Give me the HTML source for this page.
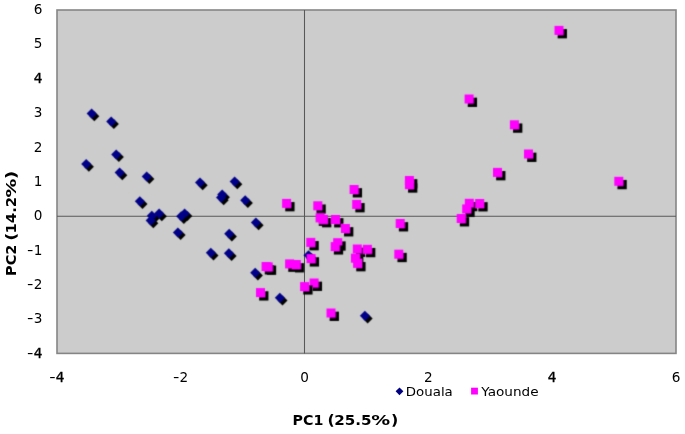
<!DOCTYPE html>
<html><head><meta charset="utf-8"><title>PCA scatter</title>
<style>
html,body{margin:0;padding:0;background:#fff;}
body{width:685px;height:434px;overflow:hidden;}
svg{display:block;}
text{font-family:"DejaVu Sans","Liberation Sans",sans-serif;fill:#000;}
.t{font-size:13.6px;}
.k{stroke:#000;stroke-width:0.35px;}
.l{font-size:12.8px;}
.b{font-size:inherit;font-weight:bold;}
svg{font-size:14px;}
</style></head><body>
<svg width="685" height="434" viewBox="0 0 685 434">
<rect x="0" y="0" width="685" height="434" fill="#ffffff"/>
<rect x="57.0" y="10.0" width="619.0" height="343.4" fill="#cccccc" stroke="#858585" stroke-width="1.6"/>
<line x1="57.0" y1="216.2" x2="676.0" y2="216.2" stroke="#585858" stroke-width="1.05"/>
<line x1="304.5" y1="10.0" x2="304.5" y2="353.4" stroke="#585858" stroke-width="1.05"/>
<text class="t" x="42.5" y="14.1" text-anchor="end">6</text>
<text class="t" x="42.5" y="48.4" text-anchor="end">5</text>
<text class="t k" x="42.5" y="82.8" text-anchor="end">4</text>
<text class="t" x="42.5" y="117.1" text-anchor="end">3</text>
<text class="t" x="42.5" y="151.5" text-anchor="end">2</text>
<text class="t" x="42.5" y="185.8" text-anchor="end">1</text>
<text class="t" x="42.5" y="220.1" text-anchor="end">0</text>
<text class="t" y="254.5"><tspan x="26.9" textLength="6.4" lengthAdjust="spacingAndGlyphs">-</tspan><tspan x="42.5" text-anchor="end">1</tspan></text>
<text class="t" y="288.8"><tspan x="26.9" textLength="6.4" lengthAdjust="spacingAndGlyphs">-</tspan><tspan x="42.5" text-anchor="end">2</tspan></text>
<text class="t" y="323.2"><tspan x="26.9" textLength="6.4" lengthAdjust="spacingAndGlyphs">-</tspan><tspan x="42.5" text-anchor="end">3</tspan></text>
<text class="t" y="357.5"><tspan x="26.9" textLength="6.4" lengthAdjust="spacingAndGlyphs">-</tspan><tspan x="42.5" text-anchor="end" class="k">4</tspan></text>
<text class="t" y="382"><tspan x="49.3" textLength="6.4" lengthAdjust="spacingAndGlyphs">-</tspan><tspan x="55.8" class="k">4</tspan></text>
<text class="t" y="382"><tspan x="173.1" textLength="6.4" lengthAdjust="spacingAndGlyphs">-</tspan><tspan x="179.6">2</tspan></text>
<text class="t" x="304.6" y="382" text-anchor="middle">0</text>
<text class="t" x="428.4" y="382" text-anchor="middle">2</text>
<text class="t k" x="552.2" y="382" text-anchor="middle">4</text>
<text class="t" x="676.0" y="382" text-anchor="middle">6</text>
<defs><filter id="bl" x="-5%" y="-5%" width="110%" height="110%"><feConvolveMatrix order="3" kernelMatrix="0.0484 0.2200 0.0484 0.2200 1.0000 0.2200 0.0484 0.2200 0.0484" divisor="2.0736" edgeMode="duplicate" preserveAlpha="false"/></filter></defs>
<g filter="url(#bl)">
<path d="M94.3 111.2L99.3 116.2L94.3 121.2L89.3 116.2Z" fill="#000"/><path d="M91.6 108.5L96.6 113.5L91.6 118.5L86.6 113.5Z" fill="#000088"/>
<path d="M113.9 119.1L118.9 124.1L113.9 129.1L108.9 124.1Z" fill="#000"/><path d="M111.2 116.4L116.2 121.4L111.2 126.4L106.2 121.4Z" fill="#000088"/>
<path d="M118.9 152.1L123.9 157.1L118.9 162.1L113.9 157.1Z" fill="#000"/><path d="M116.2 149.4L121.2 154.4L116.2 159.4L111.2 154.4Z" fill="#000088"/>
<path d="M88.9 161.7L93.9 166.7L88.9 171.7L83.9 166.7Z" fill="#000"/><path d="M86.2 159.0L91.2 164.0L86.2 169.0L81.2 164.0Z" fill="#000088"/>
<path d="M122.3 170.3L127.3 175.3L122.3 180.3L117.3 175.3Z" fill="#000"/><path d="M119.6 167.6L124.6 172.6L119.6 177.6L114.6 172.6Z" fill="#000088"/>
<path d="M149.4 174.1L154.4 179.1L149.4 184.1L144.4 179.1Z" fill="#000"/><path d="M146.7 171.4L151.7 176.4L146.7 181.4L141.7 176.4Z" fill="#000088"/>
<path d="M237.3 179.3L242.3 184.3L237.3 189.3L232.3 184.3Z" fill="#000"/><path d="M234.6 176.6L239.6 181.6L234.6 186.6L229.6 181.6Z" fill="#000088"/>
<path d="M202.7 180.2L207.7 185.2L202.7 190.2L197.7 185.2Z" fill="#000"/><path d="M200.0 177.5L205.0 182.5L200.0 187.5L195.0 182.5Z" fill="#000088"/>
<path d="M224.9 192.3L229.9 197.3L224.9 202.3L219.9 197.3Z" fill="#000"/><path d="M222.2 189.6L227.2 194.6L222.2 199.6L217.2 194.6Z" fill="#000088"/>
<path d="M223.7 195.2L228.7 200.2L223.7 205.2L218.7 200.2Z" fill="#000"/><path d="M221.0 192.5L226.0 197.5L221.0 202.5L216.0 197.5Z" fill="#000088"/>
<path d="M247.9 198.0L252.9 203.0L247.9 208.0L242.9 203.0Z" fill="#000"/><path d="M245.2 195.3L250.2 200.3L245.2 205.3L240.2 200.3Z" fill="#000088"/>
<path d="M142.5 199.0L147.5 204.0L142.5 209.0L137.5 204.0Z" fill="#000"/><path d="M139.8 196.3L144.8 201.3L139.8 206.3L134.8 201.3Z" fill="#000088"/>
<path d="M187.3 211.1L192.3 216.1L187.3 221.1L182.3 216.1Z" fill="#000"/><path d="M184.6 208.4L189.6 213.4L184.6 218.4L179.6 213.4Z" fill="#000088"/>
<path d="M161.8 211.3L166.8 216.3L161.8 221.3L156.8 216.3Z" fill="#000"/><path d="M159.1 208.6L164.1 213.6L159.1 218.6L154.1 213.6Z" fill="#000088"/>
<path d="M154.5 213.4L159.5 218.4L154.5 223.4L149.5 218.4Z" fill="#000"/><path d="M151.8 210.7L156.8 215.7L151.8 220.7L146.8 215.7Z" fill="#000088"/>
<path d="M183.9 213.9L188.9 218.9L183.9 223.9L178.9 218.9Z" fill="#000"/><path d="M181.2 211.2L186.2 216.2L181.2 221.2L176.2 216.2Z" fill="#000088"/>
<path d="M153.3 218.2L158.3 223.2L153.3 228.2L148.3 223.2Z" fill="#000"/><path d="M150.6 215.5L155.6 220.5L150.6 225.5L145.6 220.5Z" fill="#000088"/>
<path d="M258.6 220.3L263.6 225.3L258.6 230.3L253.6 225.3Z" fill="#000"/><path d="M255.9 217.6L260.9 222.6L255.9 227.6L250.9 222.6Z" fill="#000088"/>
<path d="M180.6 230.1L185.6 235.1L180.6 240.1L175.6 235.1Z" fill="#000"/><path d="M177.9 227.4L182.9 232.4L177.9 237.4L172.9 232.4Z" fill="#000088"/>
<path d="M231.9 231.5L236.9 236.5L231.9 241.5L226.9 236.5Z" fill="#000"/><path d="M229.2 228.8L234.2 233.8L229.2 238.8L224.2 233.8Z" fill="#000088"/>
<path d="M213.5 250.4L218.5 255.4L213.5 260.4L208.5 255.4Z" fill="#000"/><path d="M210.8 247.7L215.8 252.7L210.8 257.7L205.8 252.7Z" fill="#000088"/>
<path d="M231.6 251.0L236.6 256.0L231.6 261.0L226.6 256.0Z" fill="#000"/><path d="M228.9 248.3L233.9 253.3L228.9 258.3L223.9 253.3Z" fill="#000088"/>
<path d="M311.2 252.9L316.2 257.9L311.2 262.9L306.2 257.9Z" fill="#000"/><path d="M308.5 250.2L313.5 255.2L308.5 260.2L303.5 255.2Z" fill="#000088"/>
<path d="M257.9 270.5L262.9 275.5L257.9 280.5L252.9 275.5Z" fill="#000"/><path d="M255.2 267.8L260.2 272.8L255.2 277.8L250.2 272.8Z" fill="#000088"/>
<path d="M282.5 295.4L287.5 300.4L282.5 305.4L277.5 300.4Z" fill="#000"/><path d="M279.8 292.7L284.8 297.7L279.8 302.7L274.8 297.7Z" fill="#000088"/>
<path d="M367.6 313.5L372.6 318.5L367.6 323.5L362.6 318.5Z" fill="#000"/><path d="M364.9 310.8L369.9 315.8L364.9 320.8L359.9 315.8Z" fill="#000088"/>
</g><g filter="url(#bl)">
<rect x="557.65" y="29.05" width="9.3" height="9.3" fill="#000"/><rect x="554.50" y="25.90" width="9.0" height="9.0" fill="#ff00ff"/>
<rect x="467.75" y="97.65" width="9.3" height="9.3" fill="#000"/><rect x="464.60" y="94.50" width="9.0" height="9.0" fill="#ff00ff"/>
<rect x="513.05" y="123.45" width="9.3" height="9.3" fill="#000"/><rect x="509.90" y="120.30" width="9.0" height="9.0" fill="#ff00ff"/>
<rect x="527.15" y="152.65" width="9.3" height="9.3" fill="#000"/><rect x="524.00" y="149.50" width="9.0" height="9.0" fill="#ff00ff"/>
<rect x="496.15" y="171.05" width="9.3" height="9.3" fill="#000"/><rect x="493.00" y="167.90" width="9.0" height="9.0" fill="#ff00ff"/>
<rect x="408.05" y="179.15" width="9.3" height="9.3" fill="#000"/><rect x="404.90" y="176.00" width="9.0" height="9.0" fill="#ff00ff"/>
<rect x="617.45" y="179.95" width="9.3" height="9.3" fill="#000"/><rect x="614.30" y="176.80" width="9.0" height="9.0" fill="#ff00ff"/>
<rect x="408.05" y="183.35" width="9.3" height="9.3" fill="#000"/><rect x="404.90" y="180.20" width="9.0" height="9.0" fill="#ff00ff"/>
<rect x="352.75" y="188.15" width="9.3" height="9.3" fill="#000"/><rect x="349.60" y="185.00" width="9.0" height="9.0" fill="#ff00ff"/>
<rect x="467.95" y="201.95" width="9.3" height="9.3" fill="#000"/><rect x="464.80" y="198.80" width="9.0" height="9.0" fill="#ff00ff"/>
<rect x="285.25" y="202.05" width="9.3" height="9.3" fill="#000"/><rect x="282.10" y="198.90" width="9.0" height="9.0" fill="#ff00ff"/>
<rect x="478.35" y="202.15" width="9.3" height="9.3" fill="#000"/><rect x="475.20" y="199.00" width="9.0" height="9.0" fill="#ff00ff"/>
<rect x="355.35" y="203.05" width="9.3" height="9.3" fill="#000"/><rect x="352.20" y="199.90" width="9.0" height="9.0" fill="#ff00ff"/>
<rect x="316.45" y="204.45" width="9.3" height="9.3" fill="#000"/><rect x="313.30" y="201.30" width="9.0" height="9.0" fill="#ff00ff"/>
<rect x="465.35" y="207.55" width="9.3" height="9.3" fill="#000"/><rect x="462.20" y="204.40" width="9.0" height="9.0" fill="#ff00ff"/>
<rect x="318.75" y="216.55" width="9.3" height="9.3" fill="#000"/><rect x="315.60" y="213.40" width="9.0" height="9.0" fill="#ff00ff"/>
<rect x="459.85" y="217.15" width="9.3" height="9.3" fill="#000"/><rect x="456.70" y="214.00" width="9.0" height="9.0" fill="#ff00ff"/>
<rect x="322.05" y="218.05" width="9.3" height="9.3" fill="#000"/><rect x="318.90" y="214.90" width="9.0" height="9.0" fill="#ff00ff"/>
<rect x="334.15" y="218.15" width="9.3" height="9.3" fill="#000"/><rect x="331.00" y="215.00" width="9.0" height="9.0" fill="#ff00ff"/>
<rect x="398.85" y="222.15" width="9.3" height="9.3" fill="#000"/><rect x="395.70" y="219.00" width="9.0" height="9.0" fill="#ff00ff"/>
<rect x="344.05" y="227.15" width="9.3" height="9.3" fill="#000"/><rect x="340.90" y="224.00" width="9.0" height="9.0" fill="#ff00ff"/>
<rect x="309.45" y="241.05" width="9.3" height="9.3" fill="#000"/><rect x="306.30" y="237.90" width="9.0" height="9.0" fill="#ff00ff"/>
<rect x="336.35" y="241.35" width="9.3" height="9.3" fill="#000"/><rect x="333.20" y="238.20" width="9.0" height="9.0" fill="#ff00ff"/>
<rect x="333.85" y="245.25" width="9.3" height="9.3" fill="#000"/><rect x="330.70" y="242.10" width="9.0" height="9.0" fill="#ff00ff"/>
<rect x="355.95" y="247.65" width="9.3" height="9.3" fill="#000"/><rect x="352.80" y="244.50" width="9.0" height="9.0" fill="#ff00ff"/>
<rect x="366.05" y="247.95" width="9.3" height="9.3" fill="#000"/><rect x="362.90" y="244.80" width="9.0" height="9.0" fill="#ff00ff"/>
<rect x="397.45" y="252.85" width="9.3" height="9.3" fill="#000"/><rect x="394.30" y="249.70" width="9.0" height="9.0" fill="#ff00ff"/>
<rect x="354.05" y="256.85" width="9.3" height="9.3" fill="#000"/><rect x="350.90" y="253.70" width="9.0" height="9.0" fill="#ff00ff"/>
<rect x="309.75" y="257.25" width="9.3" height="9.3" fill="#000"/><rect x="306.60" y="254.10" width="9.0" height="9.0" fill="#ff00ff"/>
<rect x="356.25" y="262.05" width="9.3" height="9.3" fill="#000"/><rect x="353.10" y="258.90" width="9.0" height="9.0" fill="#ff00ff"/>
<rect x="288.25" y="262.55" width="9.3" height="9.3" fill="#000"/><rect x="285.10" y="259.40" width="9.0" height="9.0" fill="#ff00ff"/>
<rect x="294.95" y="263.15" width="9.3" height="9.3" fill="#000"/><rect x="291.80" y="260.00" width="9.0" height="9.0" fill="#ff00ff"/>
<rect x="264.75" y="265.15" width="9.3" height="9.3" fill="#000"/><rect x="261.60" y="262.00" width="9.0" height="9.0" fill="#ff00ff"/>
<rect x="266.85" y="265.55" width="9.3" height="9.3" fill="#000"/><rect x="263.70" y="262.40" width="9.0" height="9.0" fill="#ff00ff"/>
<rect x="312.75" y="281.65" width="9.3" height="9.3" fill="#000"/><rect x="309.60" y="278.50" width="9.0" height="9.0" fill="#ff00ff"/>
<rect x="303.25" y="285.25" width="9.3" height="9.3" fill="#000"/><rect x="300.10" y="282.10" width="9.0" height="9.0" fill="#ff00ff"/>
<rect x="259.15" y="291.25" width="9.3" height="9.3" fill="#000"/><rect x="256.00" y="288.10" width="9.0" height="9.0" fill="#ff00ff"/>
<rect x="329.65" y="311.65" width="9.3" height="9.3" fill="#000"/><rect x="326.50" y="308.50" width="9.0" height="9.0" fill="#ff00ff"/>
</g>
<path d="M399.5 387.4L403.4 391.3L399.5 395.2L395.6 391.3Z" fill="#000080"/>
<text class="l" x="405.8" y="395.6" textLength="47.0" lengthAdjust="spacingAndGlyphs">Douala</text>
<rect x="471.1" y="387.7" width="6.8" height="6.8" fill="#ff00ff"/>
<text class="l" x="481.2" y="395.6" textLength="57.4" lengthAdjust="spacingAndGlyphs">Yaounde</text>
<g transform="translate(0,424.6)"><text class="b" y="0"><tspan x="292.6" textLength="30.8" lengthAdjust="spacingAndGlyphs">PC1</tspan> <tspan x="327.4" textLength="7.2" lengthAdjust="spacingAndGlyphs">(</tspan><tspan x="334.3" textLength="37.3" lengthAdjust="spacingAndGlyphs">25.5</tspan><tspan x="371.2" textLength="18.9" lengthAdjust="spacingAndGlyphs">%</tspan><tspan x="391.1" textLength="7.3" lengthAdjust="spacingAndGlyphs">)</tspan></text></g>
<g transform="translate(16.4,274.6) rotate(-90)" style="font-size:14.8px"><text class="b" y="0"><tspan x="-1.3" textLength="31.3" lengthAdjust="spacingAndGlyphs">PC2</tspan> <tspan x="33.8" textLength="8.2" lengthAdjust="spacingAndGlyphs">(</tspan><tspan x="41.1" textLength="36.7" lengthAdjust="spacingAndGlyphs">14.2</tspan><tspan x="77.2" textLength="18.8" lengthAdjust="spacingAndGlyphs">%</tspan><tspan x="95.3" textLength="8.7" lengthAdjust="spacingAndGlyphs">)</tspan></text></g>
</svg></body></html>
